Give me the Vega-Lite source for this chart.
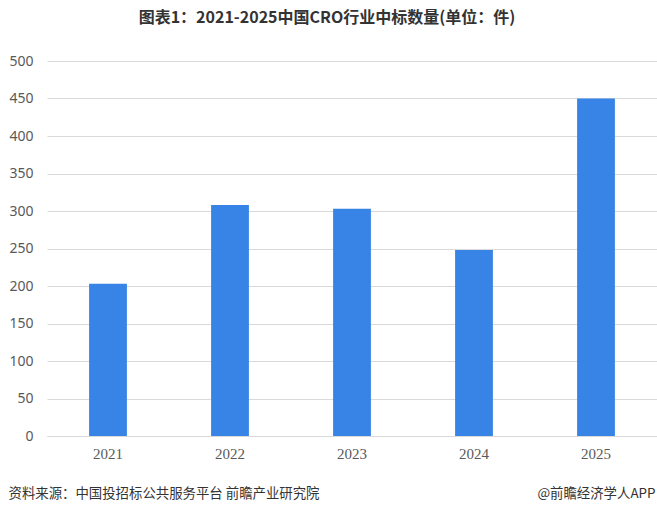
{
  "$schema": "https://vega.github.io/schema/vega-lite/v6.json",
  "autosize": "none",
  "width": 610,
  "height": 375,
  "padding": {"left": 47, "top": 61, "right": 0, "bottom": 80},
  "background": "white",
  "title": {
    "text": "图表1：2021-2025中国CRO行业中标数量(单位：件)",
    "font": "Noto Sans CJK SC",
    "fontSize": 16,
    "fontWeight": "bold",
    "color": "#333333",
    "anchor": "middle",
    "frame": "group",
    "dx": -25,
    "offset": 28
  },
  "data": {
    "values": [
      {"year": "2021", "count": 203},
      {"year": "2022", "count": 308},
      {"year": "2023", "count": 303},
      {"year": "2024", "count": 248},
      {"year": "2025", "count": 450}
    ]
  },
  "mark": {"type": "bar", "color": "#3784e6", "width": {"band": 0.31}},
  "encoding": {
    "x": {
      "field": "year",
      "type": "nominal",
      "scale": {"paddingInner": 0, "paddingOuter": 0},
      "axis": {
        "title": "资料来源：中国投招标公共服务平台 前瞻产业研究院",
        "titleFont": "Noto Sans CJK SC",
        "titleFontSize": 13.4,
        "titleFontWeight": "normal",
        "titleColor": "#333333",
        "titleAnchor": "start",
        "titleAlign": "left",
        "titleBaseline": "middle",
        "titleX": -39,
        "titleY": 57,
        "labelAngle": 0,
        "labelFont": "Liberation Serif",
        "labelFontSize": 15,
        "labelColor": "#595959",
        "labelPadding": 10,
        "ticks": false,
        "domainColor": "#d9d9d9",
        "grid": false
      }
    },
    "y": {
      "field": "count",
      "type": "quantitative",
      "scale": {"domain": [0, 500]},
      "axis": {
        "values": [0, 50, 100, 150, 200, 250, 300, 350, 400, 450, 500],
        "title": "@前瞻经济学人APP",
        "titleFont": "Noto Sans CJK SC",
        "titleFontSize": 13.4,
        "titleFontWeight": "normal",
        "titleColor": "#333333",
        "titleAngle": 0,
        "titleAlign": "right",
        "titleBaseline": "middle",
        "titleX": 608,
        "titleY": 432,
        "labelFont": "Noto Sans",
        "labelFontSize": 14,
        "labelColor": "#595959",
        "labelPadding": 14,
        "ticks": false,
        "domain": false,
        "grid": true,
        "gridColor": "#d9d9d9"
      }
    }
  },
  "config": {"view": {"stroke": null}}
}
